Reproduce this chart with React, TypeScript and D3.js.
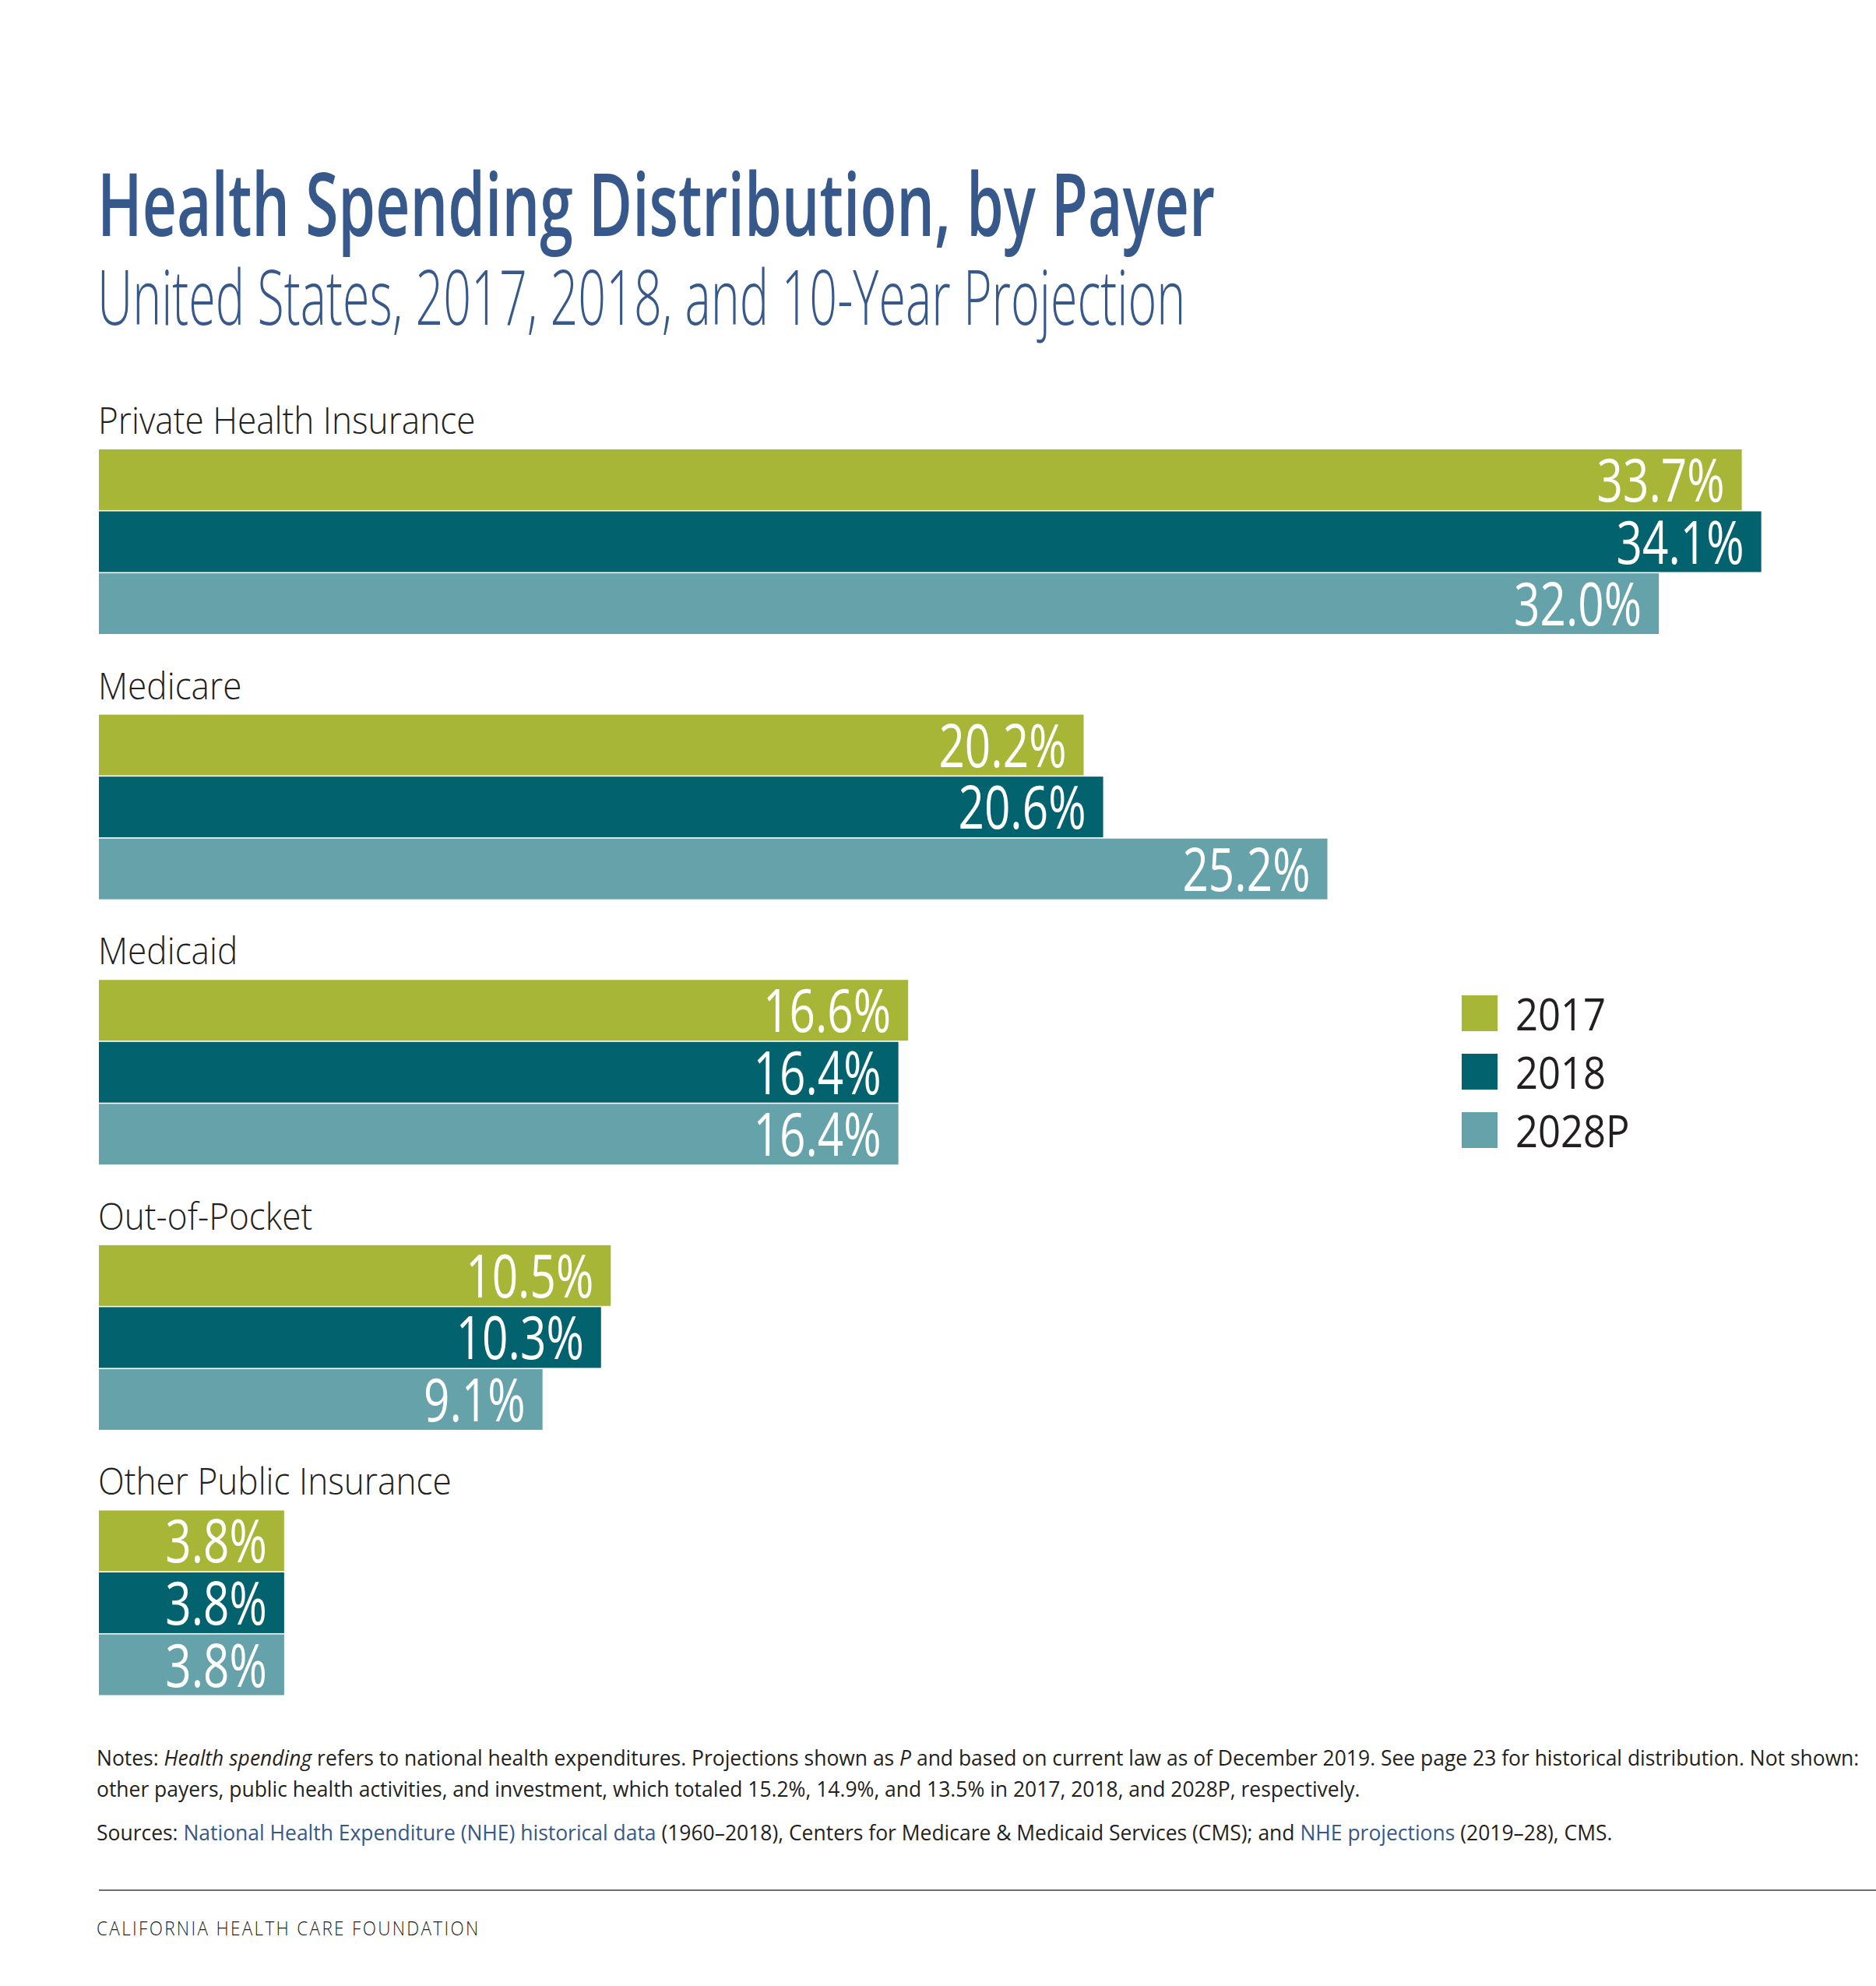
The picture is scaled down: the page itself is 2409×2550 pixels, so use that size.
import React from 'react';
import * as d3 from 'd3';

// payer categories, top to bottom
const categories = [
  'Private Health Insurance',
  'Medicare',
  'Medicaid',
  'Out-of-Pocket',
  'Other Public Insurance',
];

const years = ['2017', '2018', '2028P'];

// share of national health expenditures, %
const values2017 = [33.7, 20.2, 16.6, 10.5, 3.8];
const values2018 = [34.1, 20.6, 16.4, 10.3, 3.8];
const values2028P = [32.0, 25.2, 16.4, 9.1, 3.8];

const seriesValues = [values2017, values2018, values2028P];
const colors = ['#a8b637', '#02636e', '#66a2a9'];

const FONT = "'Open Sans', 'Noto Sans', sans-serif";
const INK = '#231f20';
const BLUE = '#36588a';

const W = 2409;
const H = 2550;
const LEFT = 127;

// horizontal condensing to mimic the condensed face of the original
const SX_TITLE = 0.68;
const SX_SUB = 0.647;
const SX_VALUE = 0.76;
const SX_CAT = 0.92;
const SX_LEGEND = 0.89;
const SX_NOTE = 0.945;

const x = d3.scaleLinear().domain([0, 36]).range([LEFT, LEFT + 36 * 62.6]);

const yGroup = d3
  .scaleBand<string>()
  .domain(categories)
  .range([577, 2176.5])
  .paddingInner(0.304)
  .paddingOuter(0);

const yBar = d3
  .scaleBand<string>()
  .domain(years)
  .range([0, yGroup.bandwidth()])
  .paddingInner(0.02);

const legendY = d3.scalePoint<string>().domain(years).range([1278, 1428]);

const Squeezed: React.FC<{
  x: number;
  y: number;
  sx: number;
  children: React.ReactNode;
  [k: string]: any;
}> = ({ x, y, sx, children, ...rest }) => (
  <text transform={`translate(${x},${y}) scale(${sx},1)`} {...rest}>
    {children}
  </text>
);

const App: React.FC = () => {
  const bw = yBar.bandwidth();

  return (
    <svg
      width={W}
      height={H}
      style={{ position: 'absolute', left: 0, top: 0, background: '#fff' }}
      fontFamily={FONT}
    >
      <rect width={W} height={H} fill="#fff" />

      <Squeezed x={LEFT - 2} y={303} sx={SX_TITLE} fontSize={113} fontWeight={600} fill={BLUE}>
        Health Spending Distribution, by Payer
      </Squeezed>
      <Squeezed x={LEFT - 2} y={417} sx={SX_SUB} fontSize={97} fontWeight={300} fill={BLUE}>
        United States, 2017, 2018, and 10-Year Projection
      </Squeezed>

      {categories.map((cat, ci) => {
        const gy = yGroup(cat)!;
        return (
          <g key={cat}>
            <Squeezed x={LEFT - 1} y={gy - 20} sx={SX_CAT} fontSize={48} fontWeight={300} fill={INK}>
              {cat}
            </Squeezed>
            {years.map((yr, si) => {
              const v = seriesValues[si][ci];
              const by = gy + yBar(yr)!;
              return (
                <g key={yr}>
                  <rect
                    x={x(0)}
                    y={by}
                    width={x(v) - x(0)}
                    height={bw}
                    fill={colors[si]}
                  />
                  <Squeezed
                    x={x(v) - 22}
                    y={by + bw - 11}
                    sx={SX_VALUE}
                    fontSize={77}
                    fill="#fff"
                    textAnchor="end"
                  >
                    {v.toFixed(1)}%
                  </Squeezed>
                </g>
              );
            })}
          </g>
        );
      })}

      {years.map((yr, si) => {
        const ly = legendY(yr)!;
        return (
          <g key={yr}>
            <rect x={1877} y={ly} width={46} height={46} fill={colors[si]} />
            <Squeezed x={1946} y={ly + 45} sx={SX_LEGEND} fontSize={57} fill={INK}>
              {yr}
            </Squeezed>
          </g>
        );
      })}

      <Squeezed x={LEFT - 3} y={2267} sx={SX_NOTE} fontSize={28} fill={INK}>
        Notes: <tspan fontStyle="italic">Health spending</tspan> refers to national health
        expenditures. Projections shown as <tspan fontStyle="italic">P</tspan> and based on current
        law as of December 2019. See page 23 for historical distribution. Not shown:
      </Squeezed>
      <Squeezed x={LEFT - 3} y={2307} sx={SX_NOTE} fontSize={28} fill={INK}>
        other payers, public health activities, and investment, which totaled 15.2%, 14.9%, and
        13.5% in 2017, 2018, and 2028P, respectively.
      </Squeezed>
      <Squeezed x={LEFT - 3} y={2363} sx={SX_NOTE} fontSize={28} fill={INK}>
        Sources: <tspan fill={BLUE}>National Health Expenditure (NHE) historical data</tspan>{' '}
        (1960–2018), Centers for Medicare &amp; Medicaid Services (CMS); and{' '}
        <tspan fill={BLUE}>NHE projections</tspan> (2019–28), CMS.
      </Squeezed>

      <line x1={LEFT} x2={W} y1={2427} y2={2427} stroke="#6d6e71" strokeWidth={2} />

      <Squeezed x={LEFT - 3} y={2485} sx={0.9} fontSize={25} fontWeight={300} fill={INK} letterSpacing={2.6}>
        CALIFORNIA HEALTH CARE FOUNDATION
      </Squeezed>
    </svg>
  );
};

export default App;
